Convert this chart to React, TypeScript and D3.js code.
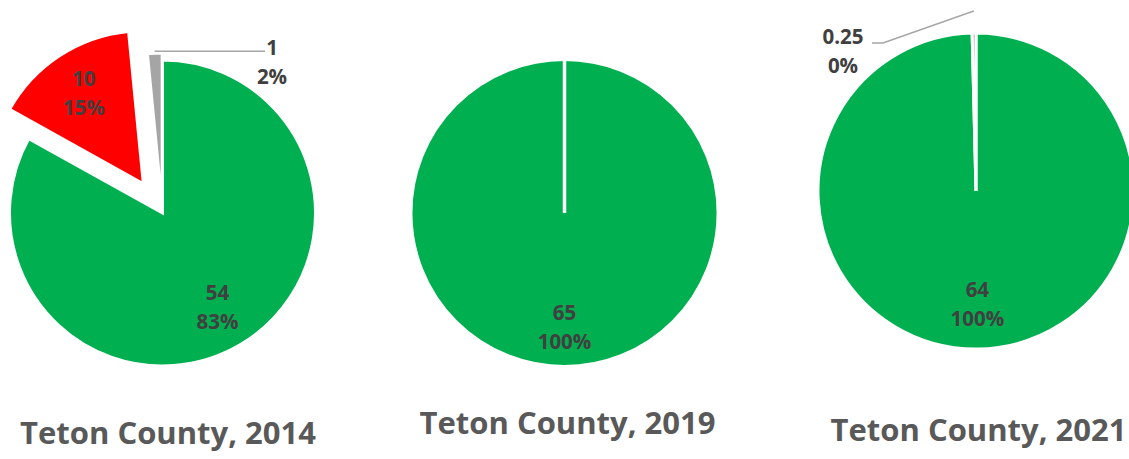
import React from "react";
import * as d3 from "d3";

// ---- data ----
const categories = ["Category A", "Category B", "Category C"];
const years = ["2014", "2019", "2021"];
const values2014 = [54, 10, 1];
const values2019 = [65, 0, 0];
const values2021 = [64, 0, 0.25];
const seriesValues = [values2014, values2019, values2021];
const titlePrefix = "Teton County, ";

// ---- styles / layout ----
const colors = ["#00b050", "#ff0000", "#a5a5a5"];
const W = 1129;
const H = 459;
const FONT = "'Open Sans', 'DejaVu Sans', sans-serif";
const LABEL_COLOR = "#404040";
const TITLE_COLOR = "#595959";
const LEADER_COLOR = "#a6a6a6";
const LABEL_SIZE = 20.5;
const TITLE_SIZE = 31;

type Outside = {
  index: number;
  startPad: number;
  elbow?: [number, number];
  endX: number;
  labelX: number;
  labelY: number;
};

const layouts: {
  cx: number;
  cy: number;
  r: number;
  explode: number[];
  titleX: number;
  titleY: number;
  labelFactor: number;
  outside?: Outside;
}[] = [
  {
    cx: 162.5, cy: 213, r: 153, explode: [0, 35, 7], titleX: 168, titleY: 444, labelFactor: 0.71,
    outside: { index: 2, startPad: 2, endX: 265, labelX: 272, labelY: 61 },
  },
  { cx: 564.5, cy: 213, r: 153.5, explode: [0, 0, 0], titleX: 567.5, titleY: 434, labelFactor: 0.74 },
  {
    cx: 976, cy: 191, r: 158, explode: [0, 0, 0], titleX: 978.5, titleY: 441, labelFactor: 0.71,
    outside: { index: 2, startPad: 22, elbow: [883, 43], endX: 872, labelX: 843, labelY: 50.5 },
  },
];

const pct = d3.format(".0%");
const fmtVal = (v: number) => String(v);

function Pie({ values, year, lay }: { values: number[]; year: string; lay: (typeof layouts)[number] }) {
  const total = d3.sum(values);
  const pie = d3
    .pie<number>()
    .sort(null)
    .value((d) => d)
    .startAngle(0)
    .endAngle(2 * Math.PI);
  const arcs = pie(values);
  const arc = d3.arc<d3.PieArcDatum<number>>().innerRadius(0).outerRadius(lay.r);
  const dir = (a: number) => [Math.sin(a), -Math.cos(a)];

  const labelText = (x: number, y: number, v: string, p: string) => (
    <>
      <text x={x} y={y - 14.5} textAnchor="middle" dominantBaseline="central"
        fontFamily={FONT} fontWeight={700} fontSize={LABEL_SIZE} fill={LABEL_COLOR}>{v}</text>
      <text x={x} y={y + 14.5} textAnchor="middle" dominantBaseline="central"
        fontFamily={FONT} fontWeight={700} fontSize={LABEL_SIZE} fill={LABEL_COLOR}>{p}</text>
    </>
  );

  return (
    <g>
      {arcs.map((a, i) => {
        if (a.value <= 0) return null;
        const mid = (a.startAngle + a.endAngle) / 2;
        const [dx, dy] = dir(mid);
        const off = lay.explode[i];
        const full = a.endAngle - a.startAngle >= 2 * Math.PI - 1e-6;
        const [sx, sy] = dir(a.startAngle);
        return (
          <g key={categories[i]} transform={`translate(${lay.cx + dx * off},${lay.cy + dy * off})`}>
            <path d={arc(a) || ""} fill={colors[i]} stroke="#ffffff" strokeWidth={3} strokeLinejoin="miter" />
            {full && (
              <line x1={0} y1={0} x2={sx * lay.r} y2={sy * lay.r} stroke="#ffffff" strokeWidth={3.5} />
            )}
          </g>
        );
      })}
      {arcs.map((a, i) => {
        if (a.value <= 0) return null;
        const mid = (a.startAngle + a.endAngle) / 2;
        const [dx, dy] = dir(mid);
        const off = lay.explode[i];
        const ox = lay.cx + dx * off;
        const oy = lay.cy + dy * off;
        const v = fmtVal(a.value);
        const p = pct(a.value / total);
        const o = lay.outside;
        if (o && o.index === i) {
          const x0 = ox + dx * (lay.r + o.startPad);
          const y0 = oy + dy * (lay.r + o.startPad);
          const pts: [number, number][] = [[x0, y0]];
          if (o.elbow) {
            pts.push(o.elbow);
            pts.push([o.endX, o.elbow[1]]);
          } else {
            pts.push([o.endX, y0]);
          }
          const line = d3.line();
          return (
            <g key={"l" + i}>
              <path d={line(pts) || ""} fill="none" stroke={LEADER_COLOR} strokeWidth={1.5} />
              {labelText(o.labelX, o.labelY, v, p)}
            </g>
          );
        }
        const lx = ox + dx * lay.r * lay.labelFactor;
        const ly = oy + dy * lay.r * lay.labelFactor;
        return <g key={"l" + i}>{labelText(lx, ly, v, p)}</g>;
      })}
      <text x={lay.titleX} y={lay.titleY} textAnchor="middle" fontFamily={FONT} fontWeight={700}
        fontSize={TITLE_SIZE} fill={TITLE_COLOR}>{titlePrefix + year}</text>
    </g>
  );
}

export default function App() {
  return (
    <svg width={W} height={H} style={{ position: "absolute", left: 0, top: 0, background: "#ffffff" }}>
      <rect x={0} y={0} width={W} height={H} fill="#ffffff" />
      {seriesValues.map((vals, k) => (
        <Pie key={years[k]} values={vals} year={years[k]} lay={layouts[k]} />
      ))}
    </svg>
  );
}
